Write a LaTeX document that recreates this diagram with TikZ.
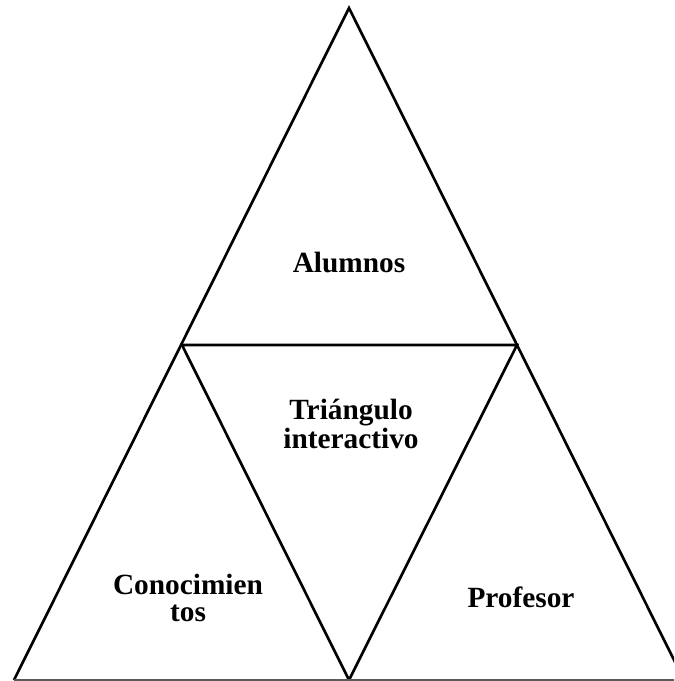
\documentclass[tikz,border=0pt]{standalone}
\usepackage{fontspec}
\setmainfont{Liberation Serif}
\usetikzlibrary{positioning}

\tikzset{
    edge/.style={line width=2pt, black, line join=miter},
    baseedge/.style={line width=1.5pt, black!65},
    label/.style={font=\bfseries\fontsize{22}{20}\selectfont, align=center, inner sep=0pt}
}

\begin{document}
\begin{tikzpicture}[x=0.75pt, y=-0.75pt]

            % Canvas
            \useasboundingbox (0,0) rectangle (674,681);
            \clip (0,0) rectangle (674,681);

            % --------------------------------------------------
            % Corner points of the big triangle
            % --------------------------------------------------
            \coordinate (top) at (349,8);
            \coordinate (left) at (14,680);
            \coordinate (right) at (684,680);
            \coordinate (midleft) at (182,345);
            \coordinate (midright) at (517,345);
            \coordinate (midbottom) at (349,680);

            % Outer triangle and inner (inverted) triangle
            \draw[edge] (left) -- (top) -- (right);
            \draw[edge] (midleft) -- (midright) -- (midbottom) -- cycle;
            \draw[baseedge] (left) -- (right);

            % --------------------------------------------------
            % Labels
            % --------------------------------------------------
            \node[label, anchor=base] (alumnos) at (349,272) {Alumnos};
            \node[label] (triangulo) at (351,424) {Triángulo\\interactivo};
            \node[label] (conoc) at (188,598) {Conocimien\\tos};
            \node[label, anchor=base] (profesor) at (521,607) {Profesor};

        \end{tikzpicture}
\end{document}
